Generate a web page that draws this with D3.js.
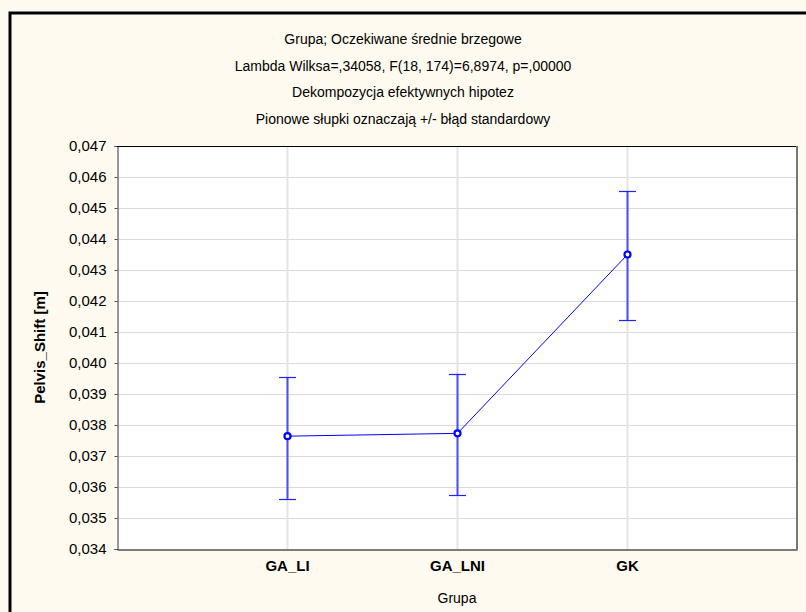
<!DOCTYPE html>
<html>
<head>
<meta charset="utf-8">
<script src="https://cdn.jsdelivr.net/npm/d3@7"></script>
<style>
  body { margin: 0; background: #fff; }
  svg { display: block; font-family: "Liberation Sans", Arial, sans-serif; }
</style>
</head>
<body>
<svg id="chart" width="806" height="612"></svg>
<script>
// data
const groups = ["GA_LI", "GA_LNI", "GK"];
const means = [0.03764, 0.03773, 0.04350];
const upper = [0.03954, 0.03965, 0.04555];
const lower = [0.03562, 0.03573, 0.04139];
const yTicks = [0.034, 0.035, 0.036, 0.037, 0.038, 0.039, 0.040, 0.041, 0.042, 0.043, 0.044, 0.045, 0.046, 0.047];
const titleLines = [
    "Grupa; Oczekiwane średnie brzegowe",
    "Lambda Wilksa=,34058, F(18, 174)=6,8974, p=,00000",
    "Dekompozycja efektywnych hipotez",
    "Pionowe słupki oznaczają +/- błąd standardowy"
];

let svg = d3.select("#chart");

// background + outer frame (runs off the right / bottom edge)
svg.append("rect").attr("width", 806).attr("height", 612).attr("fill", "#fffaef");
svg.append("rect")
    .attr("x", 10).attr("y", 13)
    .attr("width", 820).attr("height", 640)
    .attr("fill", "none").attr("stroke", "#000").attr("stroke-width", 3);

let margin = {top: 146, left: 117, right: 797, bottom: 549};

let x = d3.scaleLinear().domain([0, 4]).range([margin.left, margin.right]);
let y = d3.scaleLinear().domain([0.034, 0.047]).range([margin.bottom, margin.top]);
let fmt = d => d3.format(".3f")(d).replace(".", ",");

// plot area
svg.append("rect")
    .attr("x", margin.left).attr("y", margin.top)
    .attr("width", margin.right - margin.left).attr("height", margin.bottom - margin.top)
    .attr("fill", "#fff");

// grid
svg.append("g").selectAll("line")
    .data(yTicks.slice(1, -1))
    .enter().append("line")
    .attr("x1", margin.left).attr("x2", margin.right)
    .attr("y1", d => Math.round(y(d)) + 0.5).attr("y2", d => Math.round(y(d)) + 0.5)
    .attr("stroke", "#dadada");
svg.append("g").selectAll("line")
    .data(groups)
    .enter().append("line")
    .attr("x1", (d, i) => x(i + 1) + 0.5).attr("x2", (d, i) => x(i + 1) + 0.5)
    .attr("y1", margin.top).attr("y2", margin.bottom)
    .attr("stroke", "#e4e4e4").attr("stroke-width", 2);

// y axis
let yAxis = svg.append("g")
    .attr("transform", "translate(" + (margin.left + 0.5) + ",0)")
    .call(d3.axisLeft(y).tickValues(yTicks).tickFormat(fmt).tickSize(3).tickPadding(8));
yAxis.select(".domain").attr("stroke", "#333");
yAxis.selectAll(".tick line").attr("stroke", "#555");
yAxis.selectAll("text").attr("font-size", 15).attr("fill", "#000")
    .attr("font-family", "Liberation Sans, Arial, sans-serif");

// x axis
let xAxis = svg.append("g")
    .attr("transform", "translate(0," + (margin.bottom + 0.5) + ")")
    .call(d3.axisBottom(x).tickValues([1, 2, 3]).tickFormat(d => groups[d - 1]).tickSize(0).tickPadding(11));
xAxis.select(".domain").attr("stroke", "#000");
xAxis.selectAll("text").attr("font-size", 15).attr("font-weight", "bold").attr("fill", "#000")
    .attr("font-family", "Liberation Sans, Arial, sans-serif");

// frame of plot
svg.append("line").attr("x1", margin.left).attr("x2", margin.right)
    .attr("y1", margin.top + 0.5).attr("y2", margin.top + 0.5).attr("stroke", "#000");
svg.append("line").attr("x1", margin.right).attr("x2", margin.right)
    .attr("y1", margin.top).attr("y2", margin.bottom + 1).attr("stroke", "#777").attr("stroke-width", 2);

// error bars
let eb = svg.append("g").attr("stroke", "#4c4cff");
groups.forEach((g, i) => {
    let cx = x(i + 1) + 0.5;
    eb.append("line").attr("x1", cx).attr("x2", cx)
        .attr("y1", y(upper[i])).attr("y2", y(lower[i])).attr("stroke-width", 2);
    [upper[i], lower[i]].forEach(v => {
        eb.append("line").attr("x1", cx - 8.5).attr("x2", cx + 8.5)
            .attr("y1", Math.round(y(v)) + 0.5).attr("y2", Math.round(y(v)) + 0.5)
            .attr("stroke", "#2020ff").attr("stroke-width", 1.2);
    });
});

// mean line and markers
let line = d3.line().x((d, i) => x(i + 1) + 0.5).y(d => y(d));
svg.append("path").datum(means)
    .attr("d", line).attr("fill", "none").attr("stroke", "#0000ff").attr("stroke-width", 1);
svg.append("g").selectAll("circle")
    .data(means)
    .enter().append("circle")
    .attr("cx", (d, i) => x(i + 1) + 0.5).attr("cy", d => y(d))
    .attr("r", 3).attr("fill", "#fff").attr("stroke", "#0000ff").attr("stroke-width", 2.2);

// titles
svg.append("g").selectAll("text")
    .data(titleLines)
    .enter().append("text")
    .attr("x", 403).attr("y", (d, i) => 44 + i * 26.7)
    .attr("text-anchor", "middle").attr("font-size", 14)
    .text(d => d);

// axis labels
svg.append("text")
    .attr("transform", "translate(45," + ((margin.top + margin.bottom) / 2) + ") rotate(-90)")
    .attr("text-anchor", "middle").attr("font-size", 15).attr("font-weight", "bold")
    .text("Pelvis_Shift [m]");
svg.append("text")
    .attr("x", x(2)).attr("y", 603)
    .attr("text-anchor", "middle").attr("font-size", 14)
    .text("Grupa");
</script>
</body>
</html>
